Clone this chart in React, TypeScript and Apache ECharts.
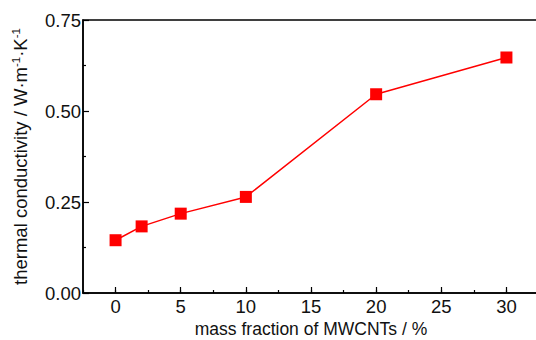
import React, { useEffect, useRef } from "react";
import * as echarts from "echarts";

const massFraction = [0, 2, 5, 10, 20, 30];
const conductivity = [0.145, 0.183, 0.218, 0.264, 0.546, 0.647];
const xMajorTicks = [0, 5, 10, 15, 20, 25, 30];

export default function App() {
  const ref = useRef<HTMLDivElement>(null);
  useEffect(() => {
    if (!ref.current) return;
    const chart = echarts.init(ref.current, null, { renderer: "svg" });
    const font = "'Liberation Sans', Arial, sans-serif";
    chart.setOption({
      animation: false,
      backgroundColor: "#ffffff",
      grid: {
        left: 83,
        top: 20,
        right: -3,
        bottom: 47,
        show: true,
        borderColor: "#000",
        borderWidth: 1.5,
        containLabel: false,
        outerBoundsMode: "none",
      },
      xAxis: [
        {
          type: "value",
          min: -2.5,
          max: 32.5,
          interval: 2.5,
          splitLine: { show: false },
          axisLine: { show: true, onZero: false, lineStyle: { color: "#000", width: 1.5 } },
          axisTick: { show: true, inside: true, length: 3, lineStyle: { color: "#000", width: 1.2 } },
          axisLabel: {
            color: "#111",
            fontFamily: font,
            fontSize: 18.5,
            lineHeight: 18,
            margin: 4,
            formatter: (v: number) => (Math.abs(v % 5) < 1e-9 && v >= 0 && v <= 30 ? String(v) : ""),
          },
          name: "mass fraction of MWCNTs / %",
          nameLocation: "middle",
          nameGap: 26,
          nameTextStyle: { color: "#111", fontFamily: font, fontSize: 17.5, lineHeight: 16 },
        },
        {
          type: "value",
          min: -2.5,
          max: 32.5,
          position: "bottom",
          splitLine: { show: false },
          axisLine: { show: false },
          axisLabel: { show: false },
          axisTick: {
            show: true,
            inside: true,
            length: 6,
            customValues: xMajorTicks,
            lineStyle: { color: "#000", width: 1.2 },
          },
        },
      ],
      yAxis: {
        type: "value",
        min: 0,
        max: 0.75,
        interval: 0.25,
        splitLine: { show: false },
        axisLine: { show: true, onZero: false, lineStyle: { color: "#000", width: 1.5 } },
        axisTick: { show: true, inside: true, length: 6, lineStyle: { color: "#000", width: 1.2 } },
        minorTick: { show: true, splitNumber: 2, length: 3, lineStyle: { color: "#000", width: 1.2 } },
        axisLabel: {
          color: "#111",
          fontFamily: font,
          fontSize: 18.5,
          margin: 2,
          formatter: (v: number) => v.toFixed(2),
        },
        name: "thermal conductivity / W·m{sup|-1}·K{sup|-1}",
        nameLocation: "middle",
        nameGap: 52,
        nameTextStyle: {
          color: "#111",
          fontFamily: font,
          fontSize: 18.5,
          lineHeight: 21,
          rich: {
            sup: { fontSize: 11.5, fontFamily: font, color: "#111", verticalAlign: "top", lineHeight: 21, padding: [0, 0, 9, 0] },
          },
        },
      },
      series: [
        {
          type: "line",
          data: massFraction.map((x, i) => [x, conductivity[i]]),
          symbol: "rect",
          symbolSize: 12,
          itemStyle: { color: "#ff0000" },
          lineStyle: { color: "#ff0000", width: 1.5 },
        },
      ],
    });
    return () => chart.dispose();
  }, []);
  return <div ref={ref} style={{ width: 536, height: 340, position: "absolute", left: 0, top: 0 }} />;
}
